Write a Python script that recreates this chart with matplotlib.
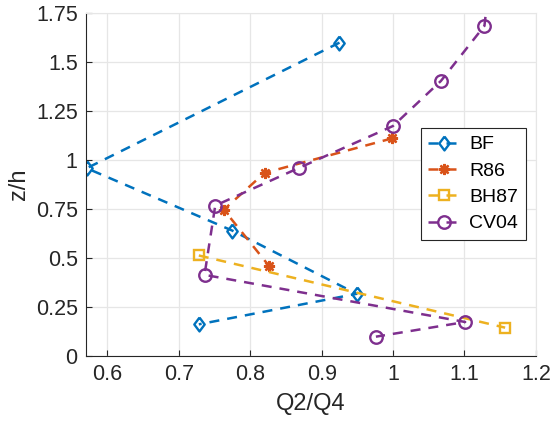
import numpy as np
import matplotlib
matplotlib.use("Agg")
import matplotlib.pyplot as plt

plt.rcParams['font.family'] = ['Liberation Sans', 'DejaVu Sans']

# Q2/Q4 ratio vs normalised height for each data set
bf_x = [0.925, 0.571, 0.775, 0.949, 0.728]
bf_z = [1.600, 0.958, 0.639, 0.316, 0.160]

r86_x = [0.999, 0.820, 0.763, 0.826]
r86_z = [1.111, 0.934, 0.746, 0.460]

bh87_x = [0.728, 1.157]
bh87_z = [0.512, 0.143]

cv04_x = [1.136, 1.128, 1.067, 1.000, 0.869, 0.751, 0.736, 1.101, 0.976]
cv04_z = [1.950, 1.686, 1.404, 1.174, 0.961, 0.767, 0.413, 0.172, 0.097]

labels = ['BF', 'R86', 'BH87', 'CV04']
colors = ['#0072BD', '#D95319', '#EDB120', '#7E2F8E']

diamond = [(0, 1), (0.75, 0), (0, -1), (-0.75, 0), (0, 1)]

fig = plt.figure(figsize=(5.53, 4.29), dpi=100)
ax = fig.add_axes([0.1555, 0.171, 0.8135, 0.798])

kw = dict(linestyle=(0, (4, 3.2)), linewidth=1.8, markerfacecolor='none',
          markeredgewidth=1.7)
ax.plot(bf_x, bf_z, marker=diamond, markersize=10, color=colors[0], label=labels[0], **kw)
ax.plot(r86_x, r86_z, marker=(8, 2, 0), markersize=8, color=colors[1], label=labels[1], **kw)
ax.plot(bh87_x, bh87_z, marker='s', markersize=7, color=colors[2], label=labels[2], **kw)
ax.plot(cv04_x, cv04_z, marker='o', markersize=9, color=colors[3], label=labels[3], **kw)

ax.set_xlim(0.57, 1.2)
ax.set_ylim(0, 1.75)
ax.set_xticks([0.6, 0.7, 0.8, 0.9, 1.0, 1.1, 1.2])
ax.set_xticklabels(['0.6', '0.7', '0.8', '0.9', '1', '1.1', '1.2'])
ax.set_yticks([0, 0.25, 0.5, 0.75, 1.0, 1.25, 1.5, 1.75])
ax.set_yticklabels(['0', '0.25', '0.5', '0.75', '1', '1.25', '1.5', '1.75'])

ax.grid(True, color='#e6e6e6', linewidth=0.9)
ax.set_axisbelow(True)
for s in ['top', 'right']:
    ax.spines[s].set_color('#e6e6e6')
for s in ['left', 'bottom']:
    ax.spines[s].set_color('#262626')
    ax.spines[s].set_linewidth(0.8)
ax.tick_params(direction='in', length=4, width=0.8, labelsize=15.5, colors='#262626',
               top=False, right=False, pad=6)

ax.set_xlabel('Q2/Q4', fontsize=17, color='#262626', labelpad=6)
ax.set_ylabel('z/h', fontsize=17, color='#262626', labelpad=4)

leg = ax.legend(loc='upper left', bbox_to_anchor=(0.744, 0.665), borderaxespad=0,
                fontsize=14, handlelength=1.6, handletextpad=0.5, labelspacing=0.45,
                fancybox=False, framealpha=1, edgecolor='#262626')
leg.get_frame().set_linewidth(0.8)

fig.savefig('out.png', dpi=100)
